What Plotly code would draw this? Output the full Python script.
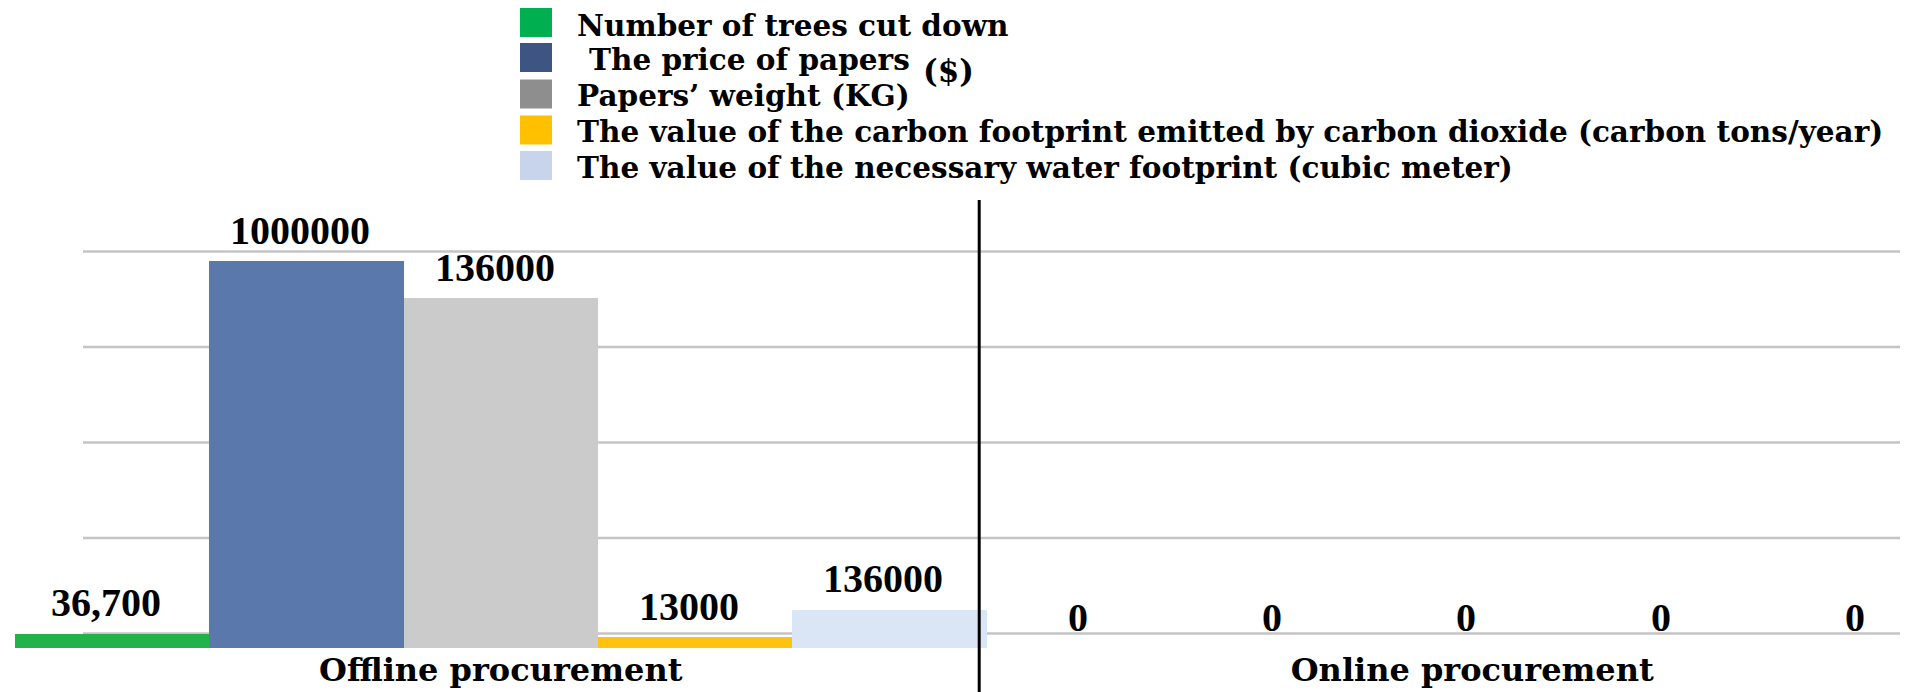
import plotly.graph_objects as go

# ---------------- data ----------------
categories = ["Offline procurement", "Online procurement"]
series_names = [
    "Number of trees cut down",
    "The price of papers",
    "Papers’ weight (KG)",
    "The value of the carbon footprint emitted by carbon dioxide (carbon tons/year)",
    "The value of the necessary water footprint (cubic meter)",
]
# visual bar heights read from the (non-linear, 3D) picture, in grid-line units
heights_offline = [0.15, 4.05, 3.66, 0.115, 0.40]
heights_online = [0, 0, 0, 0, 0]
# value labels printed on the chart
labels_offline = ["36,700", "1000000", "136000", "13000", "136000"]
labels_online = ["0", "0", "0", "0", "0"]
extra_unit_label = "($)"

# ---------------- style ----------------
bar_colors = ["#22B24A", "#5B78AC", "#CBCBCB", "#FFC20E", "#DAE6F6"]
swatch_colors = ["#00B050", "#3E5583", "#8E8E8E", "#FFC000", "#C7D4EB"]
FONT_NUM = "Liberation Serif"
FONT_TXT = "DejaVu Serif"
GRID_FLOOR = 0.152          # depth of the 3D floor below the first grid line
N_GRID = 5

# the page body has an 8px default margin; window coords are compensated
OFF = 8
W, H = 1908 - OFF, 692 - OFF
ML, MR, MT, MB = 7, 0, 201, 44
plot_w = W - ML - MR
plot_h = H - MT - MB
PX_PER_CAT = 971.5
PX_PER_UNIT = 95.5


def px_to_paper_x(wx):
    return (wx - OFF - ML) / plot_w


def px_to_paper_y(wy):
    return (H - MB - (wy - OFF)) / plot_h


fig = go.Figure()
n_series = len(series_names)
for i, name in enumerate(series_names):
    fig.add_trace(go.Bar(
        name=name,
        x=categories,
        y=[heights_offline[i], heights_online[i]],
        marker=dict(color=bar_colors[i], line=dict(width=0)),
        showlegend=False,
        cliponaxis=False,
    ))

shapes = []
annotations = []

# horizontal grid lines (start a little to the right of the plot's left edge)
for k in range(N_GRID):
    shapes.append(dict(type="line", layer="below", xref="paper", yref="y",
                       x0=px_to_paper_x(83), x1=1.0,
                       y0=GRID_FLOOR + k, y1=GRID_FLOOR + k,
                       line=dict(color="#C4C4C4", width=2.5)))

# vertical divider between the two groups
shapes.append(dict(type="line", xref="x", yref="paper",
                   x0=0.4925, x1=0.4925, y0=px_to_paper_y(700), y1=px_to_paper_y(200),
                   line=dict(color="black", width=3)))

# value labels above each bar (grouped slot position derived from the index)
slot = 1.0 / n_series
for c, (heights, labels) in enumerate([(heights_offline, labels_offline),
                                        (heights_online, labels_online)]):
    for i in range(n_series):
        annotations.append(dict(
            xref="x", yref="y",
            x=c + (i - (n_series - 1) / 2) * slot, y=heights[i],
            xanchor="center", yanchor="middle", yshift=31, xshift=-6,
            showarrow=False, text=labels[i],
            font=dict(family=FONT_NUM, size=40, color="black", weight="bold")))

# manual legend
swatch_y = [22.5, 57.5, 94, 130, 165.5]
text_y = [25.0, 59.5, 95.5, 131.5, 167.5]
for i, name in enumerate(series_names):
    cy = swatch_y[i]
    shapes.append(dict(type="rect", xref="paper", yref="paper",
                       x0=px_to_paper_x(520), x1=px_to_paper_x(552),
                       y0=px_to_paper_y(cy + 14.5), y1=px_to_paper_y(cy - 14.5),
                       fillcolor=swatch_colors[i], line=dict(width=0)))
    annotations.append(dict(xref="paper", yref="paper",
                            x=px_to_paper_x(575 if i != 1 else 587),
                            y=px_to_paper_y(text_y[i]),
                            xanchor="left", yanchor="middle", showarrow=False,
                            text=name,
                            font=dict(family=FONT_TXT, size=29.5, color="black", weight="bold")))
annotations.append(dict(xref="paper", yref="paper",
                        x=px_to_paper_x(948), y=px_to_paper_y(71),
                        xanchor="center", yanchor="middle", showarrow=False,
                        text=extra_unit_label,
                        font=dict(family=FONT_TXT, size=31, color="black", weight="bold")))

fig.update_layout(
    width=W, height=H,
    margin=dict(l=ML, r=MR, t=MT, b=MB, pad=0),
    paper_bgcolor="white", plot_bgcolor="white",
    barmode="group", bargap=0.0, bargroupgap=0.0,
    shapes=shapes, annotations=annotations,
    showlegend=False,
    xaxis=dict(range=[-0.5, -0.5 + plot_w / PX_PER_CAT], showgrid=False, zeroline=False,
               showline=False, ticks="",
               tickfont=dict(family=FONT_TXT, size=32, color="black", weight="bold")),
    yaxis=dict(range=[0, plot_h / PX_PER_UNIT], showticklabels=False, zeroline=False,
               showline=False, showgrid=False, ticks=""),
)

fig.write_html("out.html")
